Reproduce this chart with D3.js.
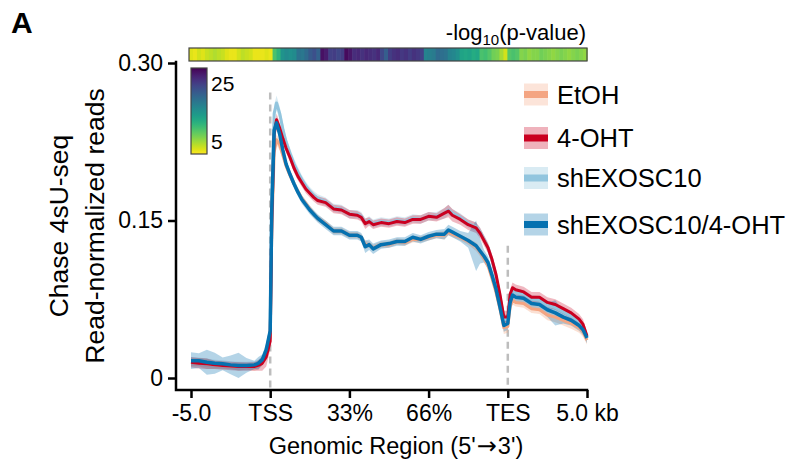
<!DOCTYPE html>
<html><head><meta charset="utf-8">
<script src="https://cdn.jsdelivr.net/npm/d3@7"></script>
<style>
body{margin:0;background:#fff}
svg{display:block}
text{font-family:"Liberation Sans",Arial,Helvetica,sans-serif;fill:#000}
</style>
</head><body>
<svg id="chart" width="795" height="466"></svg>
<script>
// ---------------- DATA ----------------
const positions = [0,0.1,0.2,0.3,0.4,0.5,0.6,0.7,0.8,0.85,0.9,0.95,1.0,1.02,1.05,1.08,1.12,1.16,1.2,1.25,1.3,1.35,1.4,1.45,1.5,1.55,1.6,1.7,1.8,1.9,2.0,2.1,2.15,2.2,2.25,2.3,2.4,2.5,2.6,2.7,2.8,2.9,3.0,3.1,3.2,3.25,3.3,3.4,3.5,3.6,3.65,3.7,3.75,3.8,3.85,3.9,3.95,4.0,4.03,4.06,4.1,4.2,4.3,4.4,4.5,4.6,4.7,4.8,4.9,4.95,5.0];

const xTickPositions = [0,1,2,3,4,5];
const xTickLabels = ["-5.0","TSS","33%","66%","TES","5.0 kb"];
const yTickValues = [0,0.15,0.30];
const yTickLabels = ["0","0.15","0.30"];

const seriesNames = ["EtOH","4-OHT","shEXOSC10","shEXOSC10/4-OHT"];
const seriesColors = ["#f4a582","#ca0020","#92c5de","#0571b0"];

const etohMean = [0.0150,0.0150,0.0135,0.0125,0.0120,0.0115,0.0110,0.0110,0.0110,0.0120,0.0150,0.0230,0.040,0.140,0.215,0.227,0.222,0.212,0.202,0.193,0.185,0.178,0.171,0.166,0.161,0.156,0.152,0.147,0.140,0.140,0.136,0.136,0.134,0.127,0.127,0.124,0.127,0.127,0.130,0.129,0.132,0.132,0.134,0.136,0.136,0.139,0.137,0.134,0.130,0.125,0.120,0.114,0.107,0.095,0.082,0.066,0.048,0.049,0.068,0.074,0.072,0.071,0.066,0.065,0.060,0.058,0.055,0.052,0.048,0.044,0.036];
const etohErr = [0.004,0.004,0.005,0.004,0.004,0.003,0.004,0.003,0.004,0.004,0.003,0.004,0.005,0.006,0.006,0.005,0.005,0.004,0.004,0.004,0.003,0.003,0.003,0.003,0.003,0.003,0.003,0.003,0.003,0.003,0.003,0.003,0.003,0.004,0.003,0.003,0.003,0.003,0.003,0.003,0.003,0.003,0.003,0.003,0.004,0.003,0.003,0.003,0.003,0.004,0.004,0.004,0.004,0.004,0.004,0.004,0.006,0.006,0.004,0.004,0.004,0.004,0.004,0.004,0.005,0.005,0.005,0.005,0.005,0.005,0.004];

const ohtMean = [0.0150,0.0140,0.0135,0.0125,0.0120,0.0115,0.0110,0.0110,0.0110,0.0120,0.0140,0.0200,0.035,0.150,0.232,0.246,0.238,0.228,0.219,0.210,0.200,0.192,0.186,0.180,0.176,0.172,0.169,0.167,0.161,0.160,0.156,0.155,0.153,0.147,0.149,0.146,0.148,0.147,0.149,0.148,0.151,0.151,0.154,0.153,0.157,0.159,0.155,0.151,0.146,0.143,0.138,0.131,0.124,0.113,0.099,0.080,0.058,0.058,0.080,0.086,0.084,0.082,0.077,0.077,0.072,0.070,0.066,0.062,0.056,0.051,0.040];
const ohtErr = [0.005,0.005,0.005,0.004,0.004,0.004,0.004,0.004,0.004,0.005,0.007,0.009,0.008,0.007,0.006,0.006,0.005,0.005,0.004,0.004,0.004,0.004,0.004,0.004,0.004,0.004,0.004,0.004,0.004,0.004,0.004,0.004,0.004,0.005,0.004,0.004,0.004,0.004,0.004,0.004,0.004,0.004,0.004,0.004,0.005,0.006,0.006,0.005,0.005,0.005,0.005,0.005,0.005,0.005,0.005,0.005,0.006,0.006,0.005,0.005,0.005,0.005,0.005,0.005,0.005,0.005,0.005,0.005,0.005,0.005,0.004];

const shMean = [0.0160,0.0155,0.0145,0.0135,0.0130,0.0120,0.0115,0.0115,0.0120,0.0135,0.0165,0.0250,0.045,0.170,0.252,0.262,0.252,0.237,0.225,0.214,0.204,0.196,0.189,0.183,0.178,0.174,0.171,0.168,0.162,0.161,0.156,0.156,0.154,0.148,0.150,0.147,0.149,0.148,0.150,0.149,0.152,0.151,0.154,0.154,0.157,0.160,0.157,0.153,0.147,0.144,0.139,0.132,0.124,0.112,0.097,0.078,0.056,0.056,0.077,0.083,0.081,0.080,0.075,0.074,0.069,0.067,0.063,0.059,0.054,0.049,0.039];
const shErr = [0.004,0.004,0.004,0.004,0.004,0.004,0.004,0.004,0.004,0.004,0.004,0.005,0.006,0.008,0.008,0.007,0.006,0.006,0.005,0.005,0.005,0.005,0.004,0.004,0.004,0.004,0.004,0.004,0.004,0.004,0.004,0.004,0.004,0.004,0.004,0.004,0.004,0.004,0.004,0.004,0.004,0.004,0.004,0.004,0.005,0.005,0.004,0.004,0.004,0.004,0.004,0.004,0.004,0.004,0.004,0.004,0.005,0.005,0.004,0.004,0.004,0.004,0.004,0.004,0.004,0.004,0.004,0.004,0.004,0.004,0.004];

const shOhtMean = [0.0165,0.0165,0.0150,0.0140,0.0135,0.0125,0.0120,0.0120,0.0125,0.0140,0.0175,0.0270,0.045,0.160,0.236,0.243,0.232,0.217,0.204,0.194,0.185,0.177,0.170,0.165,0.160,0.156,0.152,0.146,0.140,0.140,0.136,0.136,0.134,0.125,0.127,0.123,0.127,0.128,0.130,0.130,0.134,0.132,0.135,0.137,0.137,0.141,0.139,0.135,0.131,0.126,0.121,0.116,0.110,0.098,0.085,0.068,0.050,0.052,0.072,0.079,0.077,0.076,0.071,0.070,0.065,0.062,0.058,0.055,0.050,0.046,0.038];
const shOhtErr = [0.008,0.007,0.012,0.010,0.006,0.009,0.012,0.007,0.004,0.006,0.005,0.006,0.006,0.006,0.005,0.005,0.004,0.004,0.004,0.004,0.004,0.004,0.004,0.004,0.004,0.004,0.004,0.004,0.004,0.004,0.004,0.004,0.004,0.006,0.005,0.005,0.004,0.004,0.004,0.004,0.004,0.004,0.004,0.004,0.005,0.005,0.005,0.005,0.007,0.024,0.012,0.006,0.006,0.006,0.006,0.006,0.006,0.006,0.005,0.005,0.005,0.005,0.005,0.006,0.007,0.012,0.006,0.005,0.005,0.005,0.005];

// -log10(p-value) strip, one value per bin (100 bins from -5 kb to +5 kb)
const pvalueBins = [2.0,1.5,2.5,2.0,3.0,3.5,4.0,3.5,3.0,2.0,1.5,1.5,2.5,3.5,3.0,2.5,1.5,1.5,1.5,2.0,1.5,
  9,11,15,16,15.5,16,19,18.5,20,22,23,21,29,28,24.5,25,24,25,29.5,28.5,
  26.5,27,26,27,26.5,26,27,24,21.5,25,26,26.5,25.5,26,25,26,25.5,24.5,
  17,17.5,18,20,19.5,19,17,16.5,15.5,13,12.5,13,12,12.5,9,9.5,8.5,7,6.5,4.5,2.5,8.5,9,8.5,
  6,6.5,5.5,6,6,7,6.5,6,5.5,6,6.5,6,5.5,6,6.5,6,5.5];
const pvalueDomain = [0.5,30.3];
const colorbarTicks = [5,25];

const markerPositions = [1,4];       // TSS, TES
const markerTops = [0.272,0.126];

// ---------------- LAYOUT ----------------
const svg = d3.select("#chart");
const x = d3.scaleLinear().domain([0,5]).range([191,587]);
const y = d3.scaleLinear().domain([0,0.30]).range([378,63]);
const axisY = 390, axisX = 176;
const color = d3.scaleSequential(t => d3.interpolateViridis(1 - t)).domain(pvalueDomain);

// panel label
svg.append("text").attr("x",11).attr("y",33).attr("font-size",30).attr("font-weight","bold").text("A");

// p-value strip
const band = d3.scaleBand().domain(d3.range(pvalueBins.length)).range([189,587]);
svg.append("g").selectAll("rect").data(pvalueBins).join("rect")
  .attr("x",(d,i)=>band(i)).attr("y",48).attr("width",band.bandwidth()+0.6).attr("height",13)
  .attr("fill",d=>color(d));
svg.append("rect").attr("x",189).attr("y",48).attr("width",398).attr("height",13)
  .attr("fill","none").attr("stroke","#444").attr("stroke-width",1.2);

const lt = svg.append("text").attr("x",586).attr("y",40).attr("text-anchor","end").attr("font-size",22);
lt.append("tspan").text("-log");
lt.append("tspan").attr("font-size",15).attr("dy",5).text("10");
lt.append("tspan").attr("dy",-5).text("(p-value)");

// colorbar
const cb = d3.scaleLinear().domain(pvalueDomain).range([154,68]);
const defs = svg.append("defs");
const grad = defs.append("linearGradient").attr("id","cbg").attr("x1",0).attr("y1",1).attr("x2",0).attr("y2",0);
d3.range(0,1.0001,0.05).forEach(t=>{
  grad.append("stop").attr("offset",t).attr("stop-color",color(pvalueDomain[0]+t*(pvalueDomain[1]-pvalueDomain[0])));
});
svg.append("rect").attr("x",191).attr("y",68).attr("width",16).attr("height",86)
  .attr("fill","url(#cbg)").attr("stroke","#444").attr("stroke-width",1.2);
svg.append("g").selectAll("text").data(colorbarTicks).join("text")
  .attr("x",211).attr("y",d=>cb(d)).attr("dy","0.36em").attr("font-size",21).text(d=>d);

// marker lines
svg.append("g").selectAll("line").data(markerPositions).join("line")
  .attr("x1",d=>x(d)).attr("x2",d=>x(d))
  .attr("y1",(d,i)=>y(markerTops[i])).attr("y2",axisY)
  .attr("stroke","#bdbdbd").attr("stroke-width",2.5).attr("stroke-dasharray","7,5");

// series
const series = [
  {name:seriesNames[0], color:seriesColors[0], mean:etohMean, err:etohErr, op:0.35, w:3},
  {name:seriesNames[2], color:seriesColors[2], mean:shMean, err:shErr, op:0.35, w:3},
  {name:seriesNames[1], color:seriesColors[1], mean:ohtMean, err:ohtErr, op:0.28, w:3},
  {name:seriesNames[3], color:seriesColors[3], mean:shOhtMean, err:shOhtErr, op:0.3, w:3.5}
];
const area = d3.area().x((d,i)=>x(positions[i])).y0(d=>y(d[0]-d[1])).y1(d=>y(d[0]+d[1]));
const line = d3.line().x((d,i)=>x(positions[i])).y(d=>y(d));
const gBands = svg.append("g"), gLines = svg.append("g");
series.forEach(s=>{
  gBands.append("path").datum(s.mean.map((m,i)=>[m,s.err[i]])).attr("d",area)
    .attr("fill",s.color).attr("fill-opacity",s.op);
});
series.forEach(s=>{
  gLines.append("path").datum(s.mean).attr("d",line)
    .attr("fill","none").attr("stroke",s.color).attr("stroke-width",s.w).attr("stroke-linejoin","round");
});

// axes
const yAxis = d3.axisLeft(y).tickValues(yTickValues).tickFormat((d,i)=>yTickLabels[i]).tickSize(8).tickPadding(5).tickSizeOuter(0);
const gy = svg.append("g").attr("transform",`translate(${axisX},0)`).call(yAxis);
gy.select(".domain").remove();
gy.selectAll("line").attr("stroke","#000").attr("stroke-width",2.5);
gy.selectAll("text").attr("font-size",23).attr("font-family",null);

const xAxis = d3.axisBottom(x).tickValues(xTickPositions).tickFormat((d,i)=>xTickLabels[i]).tickSize(8).tickPadding(7).tickSizeOuter(0);
const gx = svg.append("g").attr("transform",`translate(0,${axisY})`).call(xAxis);
gx.select(".domain").remove();
gx.selectAll("line").attr("stroke","#000").attr("stroke-width",2.5);
gx.selectAll("text").attr("font-size",23).attr("font-family",null);

svg.append("path").attr("d",`M${axisX},${y(0.30)-1}V${axisY}H${x(5)}`)
  .attr("fill","none").attr("stroke","#000").attr("stroke-width",2.5).attr("stroke-linecap","square");

// axis titles
const xt = svg.append("text").attr("x",396).attr("y",454).attr("text-anchor","middle").attr("font-size",23.5);
xt.append("tspan").text("Genomic Region (5'");
xt.append("tspan").attr("font-family","'DejaVu Sans'").attr("font-size",24).attr("dx",1).text("\u2192");
xt.append("tspan").attr("dx",1).text("3')");
svg.append("text").attr("transform","translate(68,226) rotate(-90)").attr("text-anchor","middle").attr("font-size",26.5)
  .text("Chase 4sU-seq");
svg.append("text").attr("transform","translate(104,226) rotate(-90)").attr("text-anchor","middle").attr("font-size",26.5)
  .text("Read-normalized reads");

// legend
const legendBaselines = [103.5,147,187,233.5];
const legendOrder = [0,1,2,3];
const lg = svg.append("g");
legendOrder.forEach((k,i)=>{
  const by = legendBaselines[i];
  const cy = by - 9;
  const op = [0.3,0.3,0.35,0.3][k];
  lg.append("rect").attr("x",524).attr("y",cy-11).attr("width",24).attr("height",22)
    .attr("fill",seriesColors[k]).attr("fill-opacity",op);
  lg.append("rect").attr("x",524).attr("y",cy-3.5).attr("width",24).attr("height",7)
    .attr("fill",seriesColors[k]);
  lg.append("text").attr("x",557).attr("y",by).attr("font-size",25.5).text(seriesNames[k]);
});
</script>
</body></html>
